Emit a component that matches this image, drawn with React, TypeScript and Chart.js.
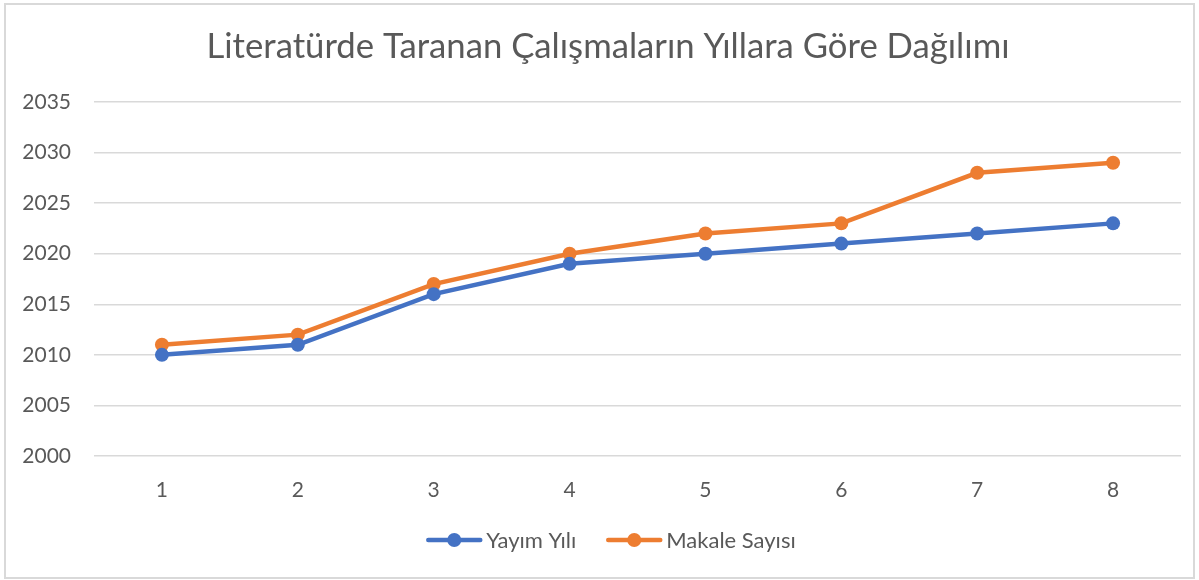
import React, { useEffect, useRef } from "react";
import { Chart, registerables } from "chart.js";

Chart.register(...registerables);

const categories = ["1", "2", "3", "4", "5", "6", "7", "8"];
const yayimYili = [2010, 2011, 2016, 2019, 2020, 2021, 2022, 2023];
const makaleSayisi = [2011, 2012, 2017, 2020, 2022, 2023, 2028, 2029];
const titleText = "Literatürde Taranan Çalışmaların Yıllara Göre Dağılımı";
const seriesNames = ["Yayım Yılı", "Makale Sayısı"];

const BLUE = "#4472C4";
const ORANGE = "#ED7D31";
const FONT = "Lato, 'Open Sans', sans-serif";
const TEXT = "#595959";

const decorPlugin = {
  id: "excelDecor",
  afterDraw(chart: any) {
    const ctx = chart.ctx as CanvasRenderingContext2D;
    const ds = chart.data.datasets;
    ctx.save();
    // title
    ctx.font = `34.7px ${FONT}`;
    ctx.fillStyle = TEXT;
    ctx.textAlign = "center";
    ctx.textBaseline = "middle";
    ctx.fillText(titleText, 608, 47);
    // legend
    ctx.font = `22px ${FONT}`;
    const markerW = 56;
    const gapText = 4;
    const gapItem = 30;
    const widths = ds.map((d: any) => ctx.measureText(d.label).width);
    let total = 0;
    widths.forEach((w: number, i: number) => {
      total += markerW + gapText + w + (i < widths.length - 1 ? gapItem : 0);
    });
    let x = 611 - total / 2;
    const y = 540;
    ds.forEach((d: any, i: number) => {
      ctx.strokeStyle = d.borderColor;
      ctx.fillStyle = d.borderColor;
      ctx.lineWidth = 4.5;
      ctx.lineCap = "round";
      ctx.beginPath();
      ctx.moveTo(x + 2, y);
      ctx.lineTo(x + markerW - 2, y);
      ctx.stroke();
      ctx.beginPath();
      ctx.arc(x + markerW / 2, y, 7, 0, Math.PI * 2);
      ctx.fill();
      x += markerW + gapText;
      ctx.fillStyle = TEXT;
      ctx.textBaseline = "middle";
      ctx.textAlign = "left";
      ctx.fillText(d.label, x, y + 1);
      x += widths[i] + gapItem;
    });
    ctx.restore();
  },
};

export default function App() {
  const ref = useRef<HTMLCanvasElement>(null);
  useEffect(() => {
    document.body.style.margin = "0";
    const chart = new Chart(ref.current!, {
      type: "line",
      data: {
        labels: categories,
        datasets: [
          {
            label: seriesNames[0],
            data: yayimYili,
            borderColor: BLUE,
            backgroundColor: BLUE,
            borderWidth: 4.5,
            pointRadius: 7,
            pointHoverRadius: 7,
            pointBorderWidth: 0,
            tension: 0,
          },
          {
            label: seriesNames[1],
            data: makaleSayisi,
            borderColor: ORANGE,
            backgroundColor: ORANGE,
            borderWidth: 4.5,
            pointRadius: 7,
            pointHoverRadius: 7,
            pointBorderWidth: 0,
            tension: 0,
          },
        ],
      },
      plugins: [decorPlugin],
      options: {
        animation: false,
        responsive: false,
        layout: { padding: { left: 0, right: 18, top: 102, bottom: 78 } },
        plugins: {
          title: { display: false },
          legend: { display: false },
          tooltip: { enabled: false },
        },
        scales: {
          x: {
            offset: true,
            grid: { display: false },
            border: { display: false },
            ticks: { color: TEXT, font: { family: FONT, size: 21 }, padding: 14 },
            afterFit: (s: any) => {
              s.height = 46;
            },
          },
          y: {
            min: 2000,
            max: 2035,
            ticks: {
              stepSize: 5,
              color: TEXT,
              font: { family: FONT, size: 21 },
              padding: 23,
              callback: (v: any) => String(v),
            },
            grid: { color: "#d9d9d9", lineWidth: 1.5, drawTicks: false },
            border: { display: false },
            afterFit: (s: any) => {
              s.width = 94;
            },
          },
        },
      },
    });
    return () => chart.destroy();
  }, []);
  return (
    <div style={{ position: "relative", width: 1199, height: 580 }}>
      <canvas ref={ref} width={1199} height={580} style={{ display: "block" }} />
      <div
        style={{
          position: "absolute",
          left: 4,
          top: 3,
          width: 1187,
          height: 572,
          border: "2px solid #d9d9d9",
          pointerEvents: "none",
        }}
      />
    </div>
  );
}
